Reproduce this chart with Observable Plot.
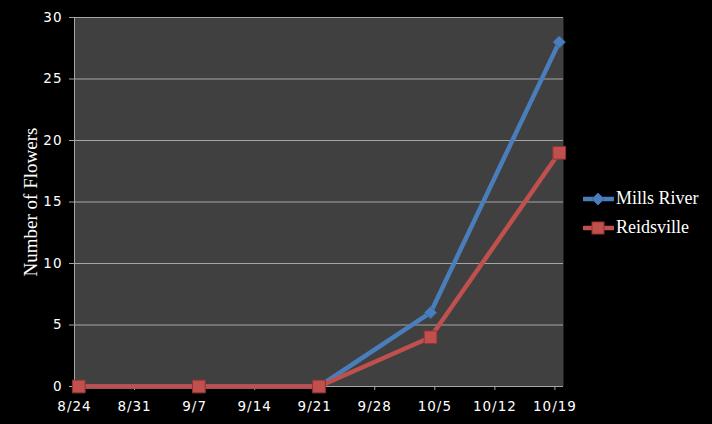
<!DOCTYPE html>
<html><head><meta charset="utf-8">
<script src="https://cdn.jsdelivr.net/npm/d3@7"></script>
<script src="https://cdn.jsdelivr.net/npm/@observablehq/plot@0.6"></script>
<style>
html,body{margin:0;padding:0;background:#000;}
#wrap{position:relative;width:712px;height:424px;overflow:hidden;}
#legend{position:absolute;left:583px;top:184px;font-family:"Liberation Serif","DejaVu Serif",serif;font-size:18px;color:#fff;}
#legend div{display:flex;align-items:center;height:29px;}
#legend svg{margin-right:2px;}
g[aria-label="x-axis tick label"], g[aria-label="y-axis tick label"]{letter-spacing:1px;}
</style></head>
<body><div id="wrap"><div id="chart"></div><div id="legend"></div></div>
<script>
const dates = ["2009-08-24","2009-09-07","2009-09-21","2009-10-04","2009-10-19"];
const millsRiver = [0,0,0,6,28];
const reidsville = [0,0,0,4,19];
const tickDates = ["2009-08-24","2009-08-31","2009-09-07","2009-09-14","2009-09-21","2009-09-28","2009-10-05","2009-10-12","2009-10-19"];
const yTicks = [0,5,10,15,20,25,30];
const series = [
  {name:"Mills River", values: millsRiver, color:"#4A7EBB", stroke:"#3a6aa5", symbol:"diamond2", r:5.5},
  {name:"Reidsville", values: reidsville, color:"#C0504D", stroke:"#8e3431", symbol:"square", r:7.2}
];
// data points sit at the middle of their day (date axis)
const rows = series.flatMap(s => dates.map((d,i) => ({series:s.name, date:new Date(d+"T12:00:00Z"), value:s.values[i]})));
const ticks = tickDates.map(d => new Date(d+"T00:00:00Z"));
const fmt = d => `${d.getUTCMonth()+1}/${d.getUTCDate()}`;

const marks = [
  Plot.frame({fill:"#404040"}),
  Plot.ruleY(yTicks.filter(v=>v>0), {stroke:"#a6a6a6", strokeWidth:1}),
  Plot.ruleY([0], {stroke:"#a6a6a6"}),
  Plot.ruleX([ticks[0]], {stroke:"#a6a6a6"}),
  Plot.axisY({ticks:yTicks, tickSize:5, tickPadding:7, stroke:"#a6a6a6", fill:"#fff", label:null, fontSize:13.5, fontFamily:"DejaVu Sans"}),
  Plot.axisX({ticks:ticks, tickFormat:fmt, tickSize:4, tickPadding:11, stroke:"#a6a6a6", fill:"#fff", label:null, fontSize:13.5, fontFamily:"DejaVu Sans"}),
];
for (const s of series) {
  marks.push(Plot.line(rows.filter(r=>r.series===s.name), {x:"date", y:"value", stroke:s.color, strokeWidth:4.5, strokeLinejoin:"round"}));
}
for (const s of series) {
  marks.push(Plot.dot(rows.filter(r=>r.series===s.name), {x:"date", y:"value", symbol:s.symbol, r:s.r, fill:s.color, stroke:s.stroke, strokeWidth:1}));
}
marks.push(Plot.text(["Number of Flowers"], {frameAnchor:"left", dx:-44, rotate:-90, textAnchor:"middle", fill:"#fff", fontSize:19, fontFamily:"Liberation Serif"}));

const chart = Plot.plot({
  width:712, height:424,
  marginLeft:74, marginRight:149, marginTop:17, marginBottom:38,
  style:{background:"#000", color:"#fff", overflow:"visible"},
  x:{type:"utc", domain:[new Date("2009-08-24T00:00:00Z"), new Date("2009-10-20T00:00:00Z")]},
  y:{domain:[0,30]},
  marks
});
document.getElementById("chart").appendChild(chart);

const leg = document.getElementById("legend");
for (const s of series) {
  const div = document.createElement("div");
  const sym = s.symbol === "square"
    ? `<rect x="9" y="2" width="12" height="12" fill="${s.color}" stroke="${s.stroke}"/>`
    : `<path d="M15 2 L21 8 L15 14 L9 8 Z" fill="${s.color}" stroke="${s.stroke}"/>`;
  div.innerHTML = `<svg width="31" height="16"><line x1="1" x2="30" y1="8" y2="8" stroke="${s.color}" stroke-width="4.5" stroke-linecap="round"/>${sym}</svg><span>${s.name}</span>`;
  leg.appendChild(div);
}
</script></body></html>
